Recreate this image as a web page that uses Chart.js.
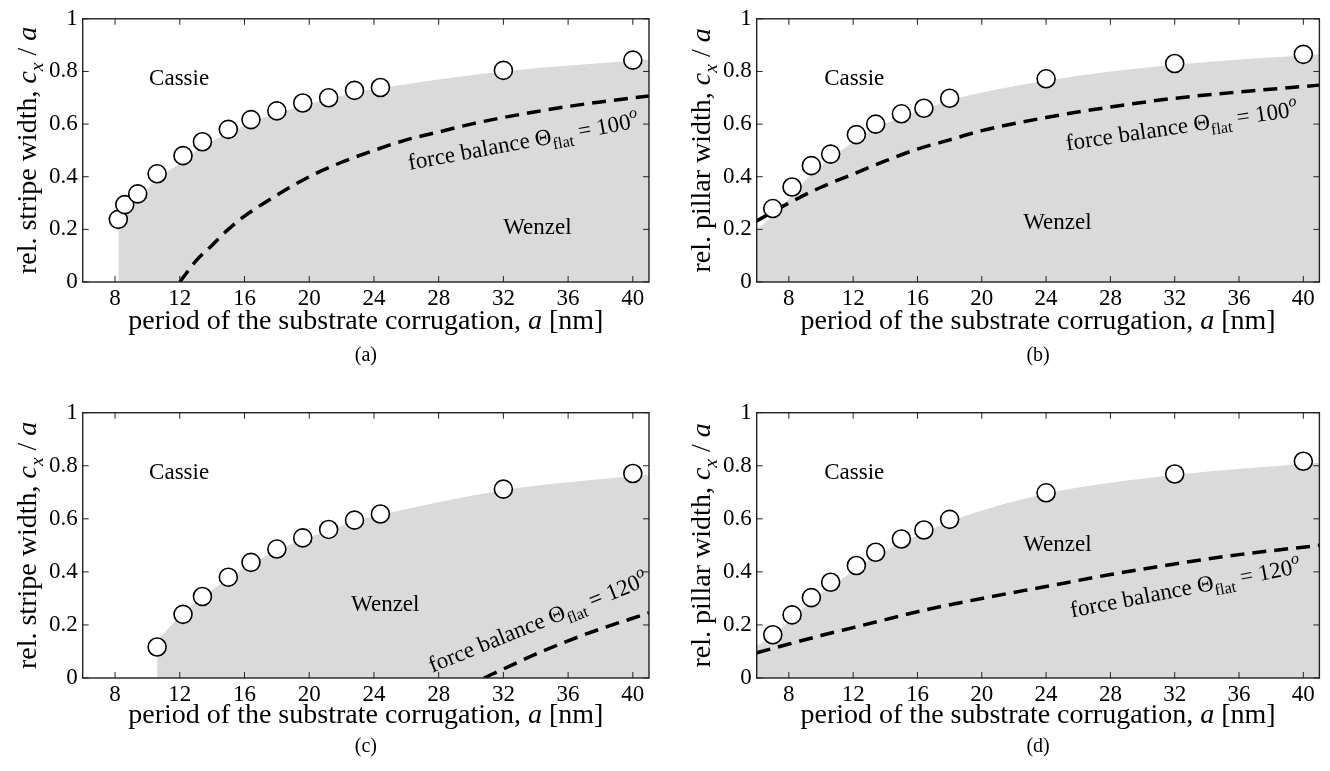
<!DOCTYPE html>
<html>
<head>
<meta charset="utf-8">
<script src="https://cdn.jsdelivr.net/npm/chart.js@4.4.1/dist/chart.umd.min.js"></script>
<style>
  body { margin: 0; background: #fff; width: 1330px; height: 771px; position: relative; overflow: hidden; }
  canvas { position: absolute; }
</style>
</head>
<body>
<canvas id="pa" width="665" height="385" style="left:0;top:0"></canvas>
<canvas id="pb" width="665" height="385" style="left:665px;top:0"></canvas>
<canvas id="pc" width="665" height="386" style="left:0;top:385px"></canvas>
<canvas id="pd" width="665" height="386" style="left:665px;top:385px"></canvas>
<script>
// tick labels
const xTicks = [8, 12, 16, 20, 24, 28, 32, 36, 40];
const yTicks = [0, 0.2, 0.4, 0.6, 0.8, 1];

// (a) stripes, 100 deg
const simA_x = [8.2, 8.6, 9.4, 10.6, 12.2, 13.4, 15.0, 16.4, 18.0, 19.6, 21.2, 22.8, 24.4, 32, 40];
const simA_y = [0.238, 0.294, 0.335, 0.411, 0.48, 0.533, 0.58, 0.617, 0.65, 0.68, 0.70, 0.728, 0.739, 0.804, 0.843];
const edgeA_x = [8.2, 8.6, 9.4, 10.6, 12.2, 13.4, 15, 16.4, 18, 19.6, 21.2, 22.8, 24.4, 32, 41];
const edgeA_y = [0.21, 0.25, 0.31, 0.39, 0.46, 0.515, 0.565, 0.605, 0.64, 0.67, 0.695, 0.72, 0.737, 0.80, 0.845];
const forceA_x = [12, 13, 14, 15, 16, 18, 20, 22, 24, 26, 28, 30, 32, 34, 36, 38, 41];
const forceA_y = [0, 0.08, 0.14, 0.2, 0.25, 0.33, 0.4, 0.455, 0.5, 0.54, 0.57, 0.6, 0.625, 0.647, 0.667, 0.684, 0.707];

// (b) pillars, 100 deg
const simB_x = [7, 8.2, 9.4, 10.6, 12.2, 13.4, 15, 16.4, 18, 24, 32, 40];
const simB_y = [0.279, 0.361, 0.442, 0.486, 0.56, 0.60, 0.639, 0.66, 0.698, 0.772, 0.83, 0.865];
const edgeB_x = [6, 7, 8.2, 9.4, 10.6, 12.2, 13.4, 15, 16.4, 18, 24, 32, 41];
const edgeB_y = [0.2, 0.25, 0.33, 0.41, 0.47, 0.54, 0.585, 0.625, 0.655, 0.69, 0.765, 0.825, 0.865];
const forceB_x = [6, 8, 10, 12, 14, 16, 18, 20, 24, 28, 32, 36, 41];
const forceB_y = [0.232, 0.30, 0.36, 0.41, 0.46, 0.505, 0.54, 0.575, 0.625, 0.665, 0.698, 0.722, 0.748];

// (c) stripes, 120 deg
const simC_x = [10.6, 12.2, 13.4, 15, 16.4, 18, 19.6, 21.2, 22.8, 24.4, 32, 40];
const simC_y = [0.117, 0.24, 0.307, 0.38, 0.436, 0.486, 0.528, 0.56, 0.595, 0.618, 0.712, 0.771];
const edgeC_x = [10.6, 12.2, 13.4, 15, 16.4, 18, 19.6, 21.2, 22.8, 24.4, 32, 41];
const edgeC_y = [0.14, 0.245, 0.305, 0.375, 0.43, 0.48, 0.522, 0.556, 0.59, 0.615, 0.708, 0.767];
const forceC_x = [30.8, 32, 34, 36, 38, 41];
const forceC_y = [0, 0.034, 0.09, 0.14, 0.185, 0.245];

// (d) pillars, 120 deg
const simD_x = [7, 8.2, 9.4, 10.6, 12.2, 13.4, 15, 16.4, 18, 24, 32, 40];
const simD_y = [0.163, 0.238, 0.303, 0.361, 0.424, 0.474, 0.524, 0.558, 0.598, 0.698, 0.769, 0.817];
const edgeD_x = [6, 7, 8.2, 9.4, 10.6, 12.2, 13.4, 15, 16.4, 18, 24, 32, 41];
const edgeD_y = [0.12, 0.16, 0.225, 0.29, 0.345, 0.41, 0.46, 0.51, 0.548, 0.59, 0.695, 0.765, 0.812];
const forceD_x = [6, 8, 10, 12, 14, 16, 20, 24, 28, 32, 36, 41];
const forceD_y = [0.095, 0.128, 0.16, 0.19, 0.22, 0.25, 0.30, 0.345, 0.39, 0.43, 0.465, 0.50];

const FONT = 'Liberation Serif';
const SIZE = 23;      // ticks and labels inside the plot
const TITLE = 28;     // axis titles

function pts(xs, ys) { return xs.map((x, i) => ({ x: x, y: ys[i] })); }

// draw text made of several runs (italic, subscript, superscript)
function drawRuns(ctx, runs, size, x, y, angle, align) {
  let total = 0;
  const parts = runs.map(r => {
    const s = (r.sub || r.sup) ? size * 0.7 : size;
    const font = (r.it ? 'italic ' : '') + s + 'px "' + FONT + '"';
    ctx.font = font;
    const w = ctx.measureText(r.t).width;
    total += w;
    return { t: r.t, font: font, w: w, dy: r.sub ? size * 0.26 : (r.sup ? -size * 0.45 : 0) };
  });
  ctx.save();
  ctx.translate(x, y);
  ctx.rotate(angle * Math.PI / 180);
  ctx.textBaseline = 'alphabetic';
  ctx.textAlign = 'left';
  ctx.fillStyle = '#000';
  let cx = align === 'center' ? -total / 2 : 0;
  parts.forEach(p => { ctx.font = p.font; ctx.fillText(p.t, cx, p.dy); cx += p.w; });
  ctx.restore();
}

const decor = {
  id: 'decor',
  afterDraw(chart) {
    const o = chart.options.plugins.decor;
    const ctx = chart.ctx, a = chart.chartArea;
    const sx = chart.scales.x, sy = chart.scales.y;
    ctx.save();
    // box and inward ticks
    ctx.strokeStyle = '#222';
    ctx.lineWidth = 1.4;
    ctx.strokeRect(a.left, a.top, a.right - a.left, a.bottom - a.top);
    ctx.lineWidth = 1;
    ctx.beginPath();
    sx.ticks.forEach(t => {
      const px = sx.getPixelForValue(t.value);
      ctx.moveTo(px, a.bottom); ctx.lineTo(px, a.bottom - 6);
      ctx.moveTo(px, a.top); ctx.lineTo(px, a.top + 6);
    });
    sy.ticks.forEach(t => {
      const py = sy.getPixelForValue(t.value);
      ctx.moveTo(a.left, py); ctx.lineTo(a.left + 6, py);
      ctx.moveTo(a.right, py); ctx.lineTo(a.right - 6, py);
    });
    ctx.stroke();
    ctx.restore();

    // region names
    ctx.save();
    ctx.font = SIZE + 'px "' + FONT + '"';
    ctx.fillStyle = '#000';
    ctx.textAlign = 'center';
    ctx.textBaseline = 'middle';
    ctx.fillText('Cassie', sx.getPixelForValue(o.cassie[0]), sy.getPixelForValue(o.cassie[1]));
    ctx.fillText('Wenzel', sx.getPixelForValue(o.wenzel[0]), sy.getPixelForValue(o.wenzel[1]));
    ctx.restore();

    // force balance label
    drawRuns(ctx, [
      { t: 'force balance \u0398' }, { t: 'flat', sub: true }, { t: ' = ' + o.theta }, { t: 'o', sup: true, it: true }
    ], SIZE, sx.getPixelForValue(o.force[0]), sy.getPixelForValue(o.force[1]), o.force[2], 'left');

    // axis titles
    drawRuns(ctx, [
      { t: 'period of the substrate corrugation, ' }, { t: 'a', it: true }, { t: ' [nm]' }
    ], TITLE, (a.left + a.right) / 2, a.bottom + o.xTitle, 0, 'center');
    drawRuns(ctx, [
      { t: 'rel. ' + o.kind + ' width, ' }, { t: 'c', it: true }, { t: 'x', it: true, sub: true }, { t: ' / ' }, { t: 'a', it: true }
    ], TITLE, a.left - 47, (a.top + a.bottom) / 2, -90, 'center');

    // panel letter
    ctx.save();
    ctx.font = '20px "' + FONT + '"';
    ctx.fillStyle = '#000';
    ctx.textAlign = 'center';
    ctx.textBaseline = 'middle';
    ctx.fillText(o.letter, (a.left + a.right) / 2, a.bottom + o.letterY);
    ctx.restore();
  }
};

function makePanel(id, sim, edge, force, box, deco) {
  new Chart(document.getElementById(id).getContext('2d'), {
    type: 'scatter',
    data: {
      datasets: [
        {
          data: sim, showLine: false, pointRadius: 9, pointBorderWidth: 1.6,
          pointBackgroundColor: '#fff', pointBorderColor: '#000', order: 0
        },
        {
          data: force, showLine: true, pointRadius: 0, borderColor: '#000', borderWidth: 3.5,
          borderDash: [14, 8], cubicInterpolationMode: 'monotone', order: 1
        },
        {
          data: edge, showLine: true, pointRadius: 0, borderWidth: 0, borderColor: 'rgba(0,0,0,0)',
          backgroundColor: '#dadada', fill: 'origin', cubicInterpolationMode: 'monotone', order: 2
        }
      ]
    },
    options: {
      responsive: false,
      animation: false,
      layout: { padding: { top: box.top, right: box.right, left: 0, bottom: 0 } },
      plugins: { legend: { display: false }, tooltip: { enabled: false }, decor: deco },
      scales: {
        x: {
          type: 'linear', min: 6, max: 41,
          afterBuildTicks: s => { s.ticks = xTicks.map(v => ({ value: v })); },
          afterFit: s => { s.height = box.xh; },
          grid: { display: false, drawTicks: false },
          border: { display: false },
          ticks: { font: { family: FONT, size: SIZE }, color: '#000', padding: 3, maxRotation: 0, autoSkip: false }
        },
        y: {
          type: 'linear', min: 0, max: 1,
          afterBuildTicks: s => { s.ticks = yTicks.map(v => ({ value: v })); },
          afterFit: s => { s.width = box.yw; },
          grid: { display: false, drawTicks: false },
          border: { display: false },
          ticks: { font: { family: FONT, size: SIZE }, color: '#000', padding: 5, callback: v => String(v) }
        }
      }
    },
    plugins: [decor]
  });
}

makePanel('pa', pts(simA_x, simA_y), pts(edgeA_x, edgeA_y), pts(forceA_x, forceA_y),
  { top: 15.7, right: 16, yw: 82.7, xh: 103 },
  { kind: 'stripe', theta: '100', letter: '(a)', xTitle: 47, letterY: 74,
    cassie: [11.96, 0.773], wenzel: [34.1, 0.207], force: [26.2, 0.426, -10.5] });
makePanel('pb', pts(simB_x, simB_y), pts(edgeB_x, edgeB_y), pts(forceB_x, forceB_y),
  { top: 15.7, right: 8.3, yw: 91.7, xh: 103 },
  { kind: 'pillar', theta: '100', letter: '(b)', xTitle: 47, letterY: 74,
    cassie: [12.07, 0.773], wenzel: [24.7, 0.226], force: [25.3, 0.50, -8.5] });
makePanel('pc', pts(simC_x, simC_y), pts(edgeC_x, edgeC_y), pts(forceC_x, forceC_y),
  { top: 27.7, right: 16, yw: 82.7, xh: 93 },
  { kind: 'stripe', theta: '120', letter: '(c)', xTitle: 45, letterY: 69,
    cassie: [11.96, 0.774], wenzel: [24.7, 0.276], force: [27.6, 0.02, -22] });
makePanel('pd', pts(simD_x, simD_y), pts(edgeD_x, edgeD_y), pts(forceD_x, forceD_y),
  { top: 27.7, right: 8.3, yw: 91.7, xh: 93 },
  { kind: 'pillar', theta: '120', letter: '(d)', xTitle: 45, letterY: 69,
    cassie: [12.07, 0.774], wenzel: [24.7, 0.50], force: [25.6, 0.228, -11] });
</script>
</body>
</html>
